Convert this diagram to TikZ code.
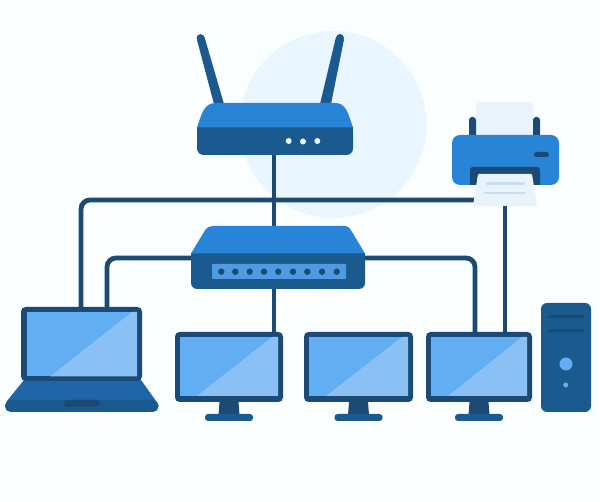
\documentclass[tikz,border=0pt]{standalone}
\definecolor{bgc}{HTML}{FBFEFF}
\definecolor{halo}{HTML}{EAF6FF}
\definecolor{cable}{HTML}{1B4A72}
\definecolor{topblue}{HTML}{2884D6}
\definecolor{midblue}{HTML}{1A5A8E}
\definecolor{lapblue}{HTML}{1F66A8}
\definecolor{darkblue}{HTML}{1A4A75}
\definecolor{screena}{HTML}{62AEF2}
\definecolor{screenb}{HTML}{8BC0F5}
\definecolor{panel}{HTML}{4F9BE3}
\definecolor{paper}{HTML}{E8F3FC}
\definecolor{paperline}{HTML}{CADDF0}
\tikzset{
  x=1pt,y=-1pt,
  cablestyle/.style={draw=cable,line width=4.8pt,rounded corners=9pt},
  body/.style={rectangle,inner sep=0pt,outer sep=0pt,anchor=north west},
  led/.style={circle,fill=#1,inner sep=0pt,minimum size=6pt},
  screenframe/.style={body,fill=darkblue,rounded corners=4.5pt},
  pics/display/.style={code={
    \fill[darkblue] (-9.5,70) -- (9.5,70) -- (10.5,83) -- (-10.5,83) -- cycle;
    \fill[midblue,rounded corners=3pt] (-24,89) -- (-24,82) -- (24,82) -- (24,89) -- cycle;
  }}
}
\begin{document}
\begin{tikzpicture}
\useasboundingbox (0,0) rectangle (600,502);
\fill[bgc] (0,0) rectangle (600,502);
\node[circle,fill=halo,minimum size=187pt,inner sep=0pt] (halo) at (333,124.5) {};

% connection points
\coordinate (rport) at (274,150);
\coordinate (sporttop) at (274,230);
\coordinate (sportbot) at (274,285);
\coordinate (sportl) at (195,258);
\coordinate (sportr) at (361,258);
\coordinate (lapa) at (81,310);
\coordinate (lapb) at (107,310);
\coordinate (monaport) at (274,335);
\coordinate (moncporta) at (475,335);
\coordinate (moncportb) at (505,335);
\coordinate (paperl) at (476,200);
\coordinate (paperb) at (505,203);

% cables
\draw[cablestyle] (rport) -- (sporttop);
\draw[cablestyle] (sportbot) -- (monaport);
\draw[cablestyle] (sportl) -| (lapb);
\draw[cablestyle] (sportr) -| (moncporta);
\draw[cablestyle] (paperl) -| (lapa);
\draw[cablestyle] (paperb) -- (moncportb);

% router
\fill[midblue] (197,40) -- (204.5,37) -- (224,104) -- (214,104) -- cycle;
\fill[midblue] (200.5,38) circle (3.9);
\fill[midblue] (336,37) -- (344,39.5) -- (331,104) -- (320,104) -- cycle;
\fill[midblue] (340,38) circle (4);
\node[body,fill=midblue,rounded corners=6.5pt,minimum width=156pt,minimum height=28pt] (routerbase) at (197,127) {};
\fill[midblue] (197,127) rectangle (353,140);
\fill[topblue] (197,127.5) .. controls (202,113) and (204,103) .. (216,103) -- (335,103) .. controls (346,103) and (348,113) .. (353,127.5) -- cycle;
\node[led=paper] (ra) at (288.7,141) {};
\node[led=paper] (rb) at (303,141.5) {};
\node[led=paper] (rc) at (317.3,141) {};

% switch
\node[body,fill=midblue,rounded corners=6pt,minimum width=174pt,minimum height=36pt] (switchbase) at (191,253) {};
\fill[midblue] (191,253) rectangle (365,270);
\fill[topblue] (191,253.5) -- (204,232) .. controls (206,228) and (209,226) .. (214,226) -- (344,226) .. controls (348,226) and (350,228) .. (352,232) -- (365,253.5) -- cycle;
\node[body,fill=panel,rounded corners=1pt,minimum width=134pt,minimum height=15pt] (switchpanel) at (212,264) {};
\foreach \i/\x in {1/221.3,2/235.3,3/249.7,4/264,5/278.3,6/293,7/307.3,8/322,9/336.7}
  \node[circle,fill=cable,inner sep=0pt,minimum size=6.4pt] (sp\i) at (\x,271.7) {};

% printer
\node[body,fill=paper,rounded corners=5pt,minimum width=57pt,minimum height=45pt] (papertop) at (476,102) {};
\fill[darkblue,rounded corners=3pt] (469,140) -- (469,117) -- (476,117) -- (476,140) -- cycle;
\fill[darkblue,rounded corners=3pt] (533,140) -- (533,117) -- (540,117) -- (540,140) -- cycle;
\node[body,fill=topblue,rounded corners=8pt,minimum width=107pt,minimum height=50pt] (printer) at (452,135) {};
\fill[darkblue] (470,185) -- (470,170) .. controls (470,168) and (471,167) .. (473,167) -- (537,167) .. controls (539,167) and (540,168) .. (540,170) -- (540,185) -- cycle;
\node[body,fill=darkblue,rounded corners=2.5pt,minimum width=15pt,minimum height=5pt] (handle) at (534,152) {};
\fill[paper,rounded corners=1pt] (478,174) -- (532,174) -- (537,206) -- (473,206) -- cycle;
\draw[paperline,line width=2.5pt,line cap=round] (487,183.7) -- (524,183.7);
\draw[paperline,line width=2.5pt,line cap=round] (485,193) -- (525,193);

% laptop
\fill[lapblue] (24,380) -- (141,380) -- (156,401) -- (7,401) -- cycle;
\node[body,fill=midblue,rounded corners=5.5pt,minimum width=153.5pt,minimum height=12pt] (lapbase) at (5,400) {};
\node[body,fill=darkblue,rounded corners=3.4pt,minimum width=36pt,minimum height=7pt] (lapnotch) at (64,400) {};
\node[screenframe,minimum width=121pt,minimum height=74pt] (laptop) at (21,307) {};
\fill[screena] (27,312) rectangle (137,376.5);
\fill[screenb] (50,376.5) -- (132,312) -- (137,312) -- (137,376.5) -- cycle;

% monitors
\foreach \n/\l/\r/\c/\d/\e in {mona/175/283/229/197/272,monb/304/413/358.5/326/402,monc/426/532/479/448/522}{
  \pgfmathsetmacro{\w}{\r-\l}
  \path (\c,332) pic {display};
  \node[screenframe,minimum width=\w pt,minimum height=70pt] (\n) at (\l,332) {};
  \fill[screena] (\l+5,337) rectangle (\r-5,396);
  \fill[screenb] (\d,396) -- (\e,337) -- (\r-5,337) -- (\r-5,396) -- cycle;
}

% tower
\node[body,fill=midblue,rounded corners=6pt,minimum width=50pt,minimum height=109pt] (tower) at (541,303) {};
\draw[darkblue,line width=3pt,line cap=round] (549,316.5) -- (583,316.5);
\draw[darkblue,line width=3pt,line cap=round] (549,331) -- (583,331);
\node[circle,fill=screena,inner sep=0pt,minimum size=13pt] (power) at (566,364) {};
\node[circle,fill=screena,inner sep=0pt,minimum size=5pt] (hdd) at (565.7,385) {};
\end{tikzpicture}
\end{document}
